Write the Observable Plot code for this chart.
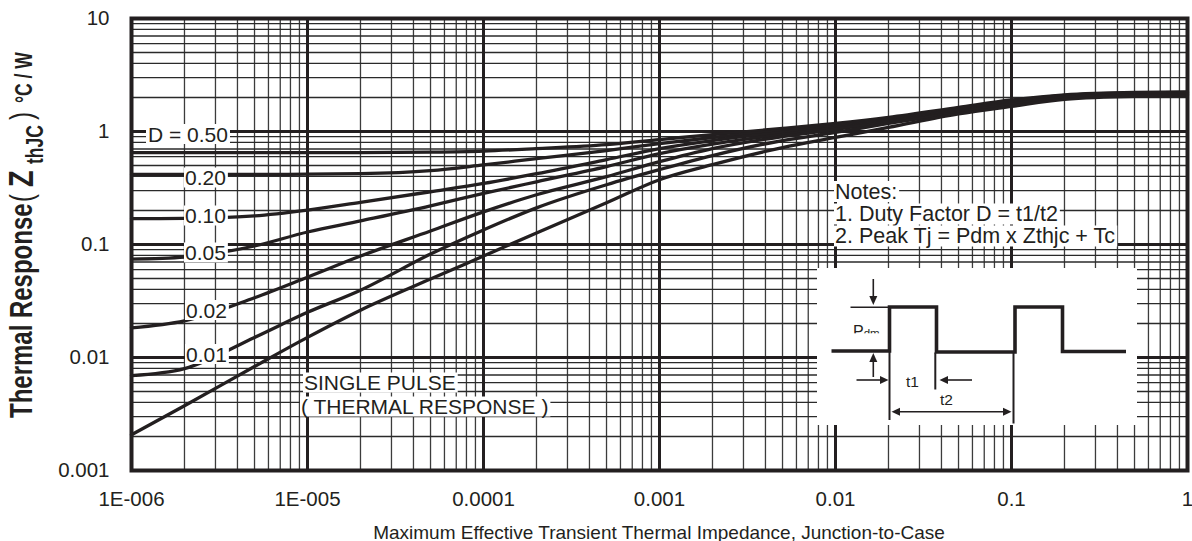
<!DOCTYPE html>
<html>
<head>
<meta charset="utf-8">
<script src="https://cdn.jsdelivr.net/npm/d3@7"></script>
<script src="https://cdn.jsdelivr.net/npm/@observablehq/plot@0.6"></script>
<style>
html,body{margin:0;padding:0;background:#fff;}
#chart{position:relative;width:1192px;height:541px;overflow:hidden;}
#chart svg{font-family:Arial,"Liberation Sans",Helvetica,sans-serif;}
</style>
</head>
<body>
<div id="chart"></div>
<script>
// ---- data ----
const times = [1e-6,2e-6,5e-6,1e-5,2e-5,5e-5,1e-4,2e-4,5e-4,1e-3,2e-3,5e-3,1e-2,2e-2,5e-2,0.1,0.2,0.5,1];
const zD050 = [0.651,0.651,0.651,0.651,0.651,0.657,0.671,0.706,0.766,0.849,0.94,1.063,1.178,1.332,1.634,1.905,2.111,2.222,2.244];
const zD020 = [0.417,0.417,0.417,0.419,0.423,0.450,0.506,0.575,0.678,0.782,0.885,1.02,1.142,1.291,1.601,1.867,2.089,2.199,2.222];
const zD010 = [0.1696,0.170,0.179,0.2014,0.236,0.293,0.347,0.423,0.564,0.706,0.832,0.98,1.108,1.265,1.569,1.848,2.068,2.177,2.199];
const zD005 = [0.0743,0.0774,0.097,0.129,0.1618,0.22,0.283,0.359,0.489,0.637,0.774,0.94,1.074,1.24,1.537,1.811,2.047,2.154,2.177];
const zD002 = [0.0183,0.0211,0.0338,0.0514,0.079,0.1318,0.1945,0.2754,0.398,0.541,0.706,0.903,1.042,1.215,1.506,1.774,2.005,2.111,2.133];
const zD001 = [0.00692,0.00798,0.01506,0.0251,0.0394,0.0823,0.1345,0.2111,0.338,0.4596,0.612,0.832,0.98,1.178,1.475,1.738,1.986,2.089,2.111];
const zSingle = [0.00207,0.00374,0.00832,0.01506,0.0262,0.0494,0.079,0.1265,0.2338,0.3745,0.509,0.721,0.885,1.085,1.43,1.668,1.925,2.047,2.068];
const seriesNames = ["D = 0.50","0.20","0.10","0.05","0.02","0.01","SINGLE PULSE"];
const xTickValues = [1e-6,1e-5,1e-4,1e-3,1e-2,1e-1,1];
const xTickLabels = ["1E-006","1E-005","0.0001","0.001","0.01","0.1","1"];
const yTickValues = [0.001,0.01,0.1,1,10];
const yTickLabels = ["0.001","0.01","0.1","1","10"];
const xTitle = "Maximum Effective Transient Thermal Impedance, Junction-to-Case";
const notesLines = ["Notes:","1. Duty Factor D = t1/t2","2. Peak Tj = Pdm x Zthjc + Tc"];
const singleLabel = ["SINGLE PULSE","( THERMAL RESPONSE )"];

// ---- build table ----
const seriesValues = [zD050,zD020,zD010,zD005,zD002,zD001,zSingle];
const rows = [];
seriesValues.forEach((vals, s) => vals.forEach((z, i) => rows.push({t: times[i], z, series: seriesNames[s]})));

const xMinor = [];
for (let e = -6; e < 0; e++) for (let k = 2; k <= 9; k++) xMinor.push(k * 10 ** e);
const yMinor = [];
for (let e = -3; e < 1; e++) for (let k = 2; k <= 9; k++) yMinor.push(k * 10 ** e);

const labelOf = (vals, labels) => d => { let i = vals.findIndex(v => Math.abs(Math.log10(v) - Math.log10(d)) < 1e-6); return i >= 0 ? labels[i] : ""; };

const INK = "#231f20";
const chart = Plot.plot({
  width: 1192, height: 541,
  marginLeft: 131, marginRight: 5, marginTop: 18, marginBottom: 71,
  x: {type: "log", domain: [1e-6, 1]},
  y: {type: "log", domain: [0.001, 10]},
  style: {fontFamily: "Arial, 'Liberation Sans', sans-serif", background: "#fff", color: INK},
  marks: [
    Plot.ruleX(xMinor, {stroke: "#3c3c3c", strokeWidth: 1.3}),
    Plot.ruleY(yMinor, {stroke: "#2a2a2a", strokeWidth: 1.3}),
    Plot.ruleX(xTickValues, {stroke: INK, strokeWidth: 3}),
    Plot.ruleY(yTickValues, {stroke: INK, strokeWidth: 2.8}),
    Plot.line(rows, {x: "t", y: "z", z: "series", stroke: INK, strokeWidth: 3.3, curve: "monotone-x"}),
    Plot.frame({stroke: INK, strokeWidth: 4}),
    Plot.axisX({ticks: xTickValues, tickFormat: labelOf(xTickValues, xTickLabels), tickSize: 0, tickPadding: 21, fontSize: 20.5, label: null}),
    Plot.axisY({ticks: yTickValues, tickFormat: labelOf(yTickValues, yTickLabels), tickSize: 0, tickPadding: 22, fontSize: 20.5, label: null})
  ]
});
document.getElementById("chart").appendChild(chart);

// ---- annotations ----
const svg = d3.select(chart);
const ann = svg.append("g").attr("fill", INK).attr("font-size", 21).attr("text-anchor", "start");

function boxedText(x, y, str, size, padL = 1, padR = 2) {
  const t = ann.append("text").attr("x", x).attr("y", y).attr("font-size", size).attr("text-anchor", "start").text(str);
  const b = t.node().getBBox();
  ann.insert("rect", () => t.node())
    .attr("x", b.x - padL).attr("y", b.y + 1.5).attr("width", b.width + padL + padR).attr("height", b.height - 3)
    .attr("fill", "#fff");
  return t;
}

// curve labels
boxedText(148, 141.5, seriesNames[0], 21, 2, 2);
boxedText(185, 185, seriesNames[1], 21);
boxedText(185, 223, seriesNames[2], 21);
boxedText(185, 260, seriesNames[3], 21);
boxedText(186, 317.5, seriesNames[4], 21);
boxedText(186, 361.5, seriesNames[5], 21);
boxedText(304, 390, singleLabel[0], 21);
boxedText(301, 414, singleLabel[1], 21);

// notes
boxedText(835, 198.5, notesLines[0], 21.5);
boxedText(835, 221, notesLines[1], 21.5);
boxedText(835, 243, notesLines[2], 21.5);

// inset diagram
const g = svg.append("g").attr("text-anchor", "start");
g.append("rect").attr("x", 817).attr("y", 268).attr("width", 320).attr("height", 157).attr("fill", "#fff");
const wave = [[831.5,351],[889.5,351],[889.5,307],[936.5,307],[936.5,352],[1015,352],[1015,307],[1062.5,307],[1062.5,351.5],[1126,351.5]];
g.append("path").attr("d", d3.line()(wave)).attr("fill", "none").attr("stroke", INK).attr("stroke-width", 3.6).attr("stroke-linejoin", "miter");
const thin = (x1,y1,x2,y2,w=1.6) => g.append("line").attr("x1",x1).attr("y1",y1).attr("x2",x2).attr("y2",y2).attr("stroke",INK).attr("stroke-width",w);
const tri = pts => g.append("path").attr("d", d3.line()(pts) + "Z").attr("fill", INK);
thin(850.5, 307.3, 889, 307.3);
thin(873.3, 279, 873.3, 297); tri([[869.3,296],[877.3,296],[873.3,305]]);
thin(873.3, 377, 873.3, 361); tri([[869.3,362],[877.3,362],[873.3,353]]);
thin(856.5, 380, 880, 380); tri([[880,376],[880,384],[888.5,380]]);
thin(972, 380, 948, 380); tri([[948,376],[948,384],[939.5,380]]);
thin(889.5, 351, 889.5, 420, 2);
thin(935.3, 352.5, 935.3, 389.5, 2);
thin(1013.5, 352.5, 1013.5, 423.5, 2);
thin(899, 411.7, 1003, 411.7); tri([[900,407.7],[900,415.7],[891.5,411.7]]); tri([[1003,407.7],[1003,415.7],[1011.5,411.7]]);
g.append("text").attr("x", 906).attr("y", 387).attr("font-size", 15.5).attr("fill", INK).text("t1");
g.append("text").attr("x", 940).attr("y", 405).attr("font-size", 15.5).attr("fill", INK).text("t2");
const pdm = g.append("text").attr("x", 853).attr("y", 337).attr("font-size", 16).attr("fill", INK);
pdm.append("tspan").text("P");
pdm.append("tspan").attr("font-size", 11.5).text("dm");
g.append("rect").attr("x", 850).attr("y", 333.3).attr("width", 35).attr("height", 8).attr("fill", "#fff");

// axis titles
svg.append("text").attr("x", 659).attr("y", 538.5).attr("text-anchor", "middle").attr("font-size", 19).attr("fill", INK).text(xTitle);

const Y0 = 418;
const yt = svg.append("g").attr("transform", `translate(32,${Y0}) rotate(-90) scale(1,1.33)`).attr("fill", INK).attr("text-anchor", "start");
const pieces = [
  {s: "Thermal Response", size: 24, w: "bold", at: 418, dy: 0},
  {s: "(", size: 24, w: "normal", at: 202, dy: 0},
  {s: "Z", size: 27, w: "bold", at: 187, dy: 1},
  {s: "thJC", size: 17.5, w: "bold", at: 164, dy: 8},
  {s: ")", size: 24, w: "normal", at: 120, dy: 0},
  {s: "°C / W", size: 17.5, w: "bold", at: 103, dy: 0}
];
pieces.forEach(p => yt.append("text").attr("x", Y0 - p.at).attr("y", p.dy).attr("font-size", p.size).attr("font-weight", p.w).attr("text-anchor", "start").text(p.s));
</script>
</body>
</html>
